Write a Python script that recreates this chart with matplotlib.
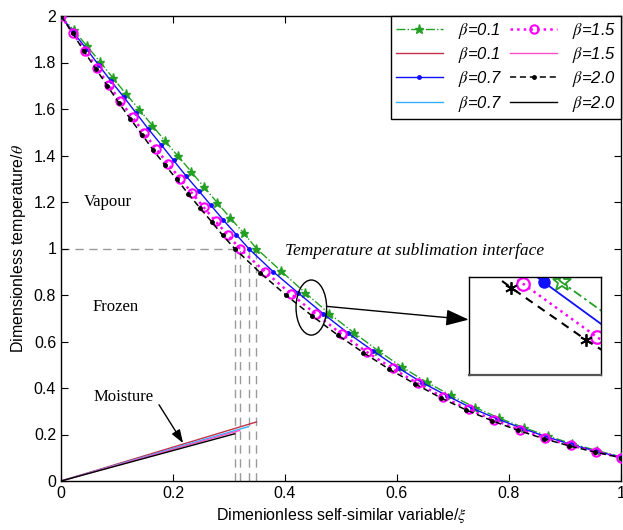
import numpy as np
import matplotlib
matplotlib.use('Agg')
import matplotlib.pyplot as plt
from matplotlib.patches import Ellipse

plt.rcParams['font.family'] = ['Liberation Sans', 'DejaVu Sans']
plt.rcParams['mathtext.fontset'] = 'stix'

# ---------------- data ----------------
betas = ['0.1', '0.7', '1.5', '2.0']

xi_b01 = [0, 0.023, 0.047, 0.070, 0.093, 0.116, 0.140, 0.163, 0.186, 0.209, 0.233, 0.256,
          0.279, 0.302, 0.326, 0.349, 0.392, 0.436, 0.479, 0.523, 0.566, 0.609, 0.653, 0.696,
          0.740, 0.783, 0.826, 0.870, 0.913, 0.957, 1.0]
th_b01 = [2.0, 1.938, 1.869, 1.802, 1.733, 1.665, 1.597, 1.529, 1.462, 1.397, 1.329, 1.263,
          1.197, 1.132, 1.067, 1.0, 0.905, 0.810, 0.720, 0.638, 0.561, 0.490, 0.425, 0.368,
          0.316, 0.270, 0.230, 0.193, 0.160, 0.131, 0.104]

xi_b07 = [0, 0.022, 0.045, 0.067, 0.089, 0.112, 0.134, 0.156, 0.179, 0.201, 0.223, 0.246,
          0.268, 0.290, 0.313, 0.335, 0.379, 0.424, 0.468, 0.512, 0.557, 0.601, 0.645, 0.690,
          0.734, 0.778, 0.823, 0.867, 0.911, 0.956, 1.0]
th_b07 = [2.0, 1.930, 1.860, 1.790, 1.721, 1.652, 1.583, 1.514, 1.446, 1.379, 1.313, 1.248,
          1.185, 1.122, 1.060, 1.0, 0.900, 0.808, 0.720, 0.637, 0.560, 0.488, 0.423, 0.366,
          0.313, 0.268, 0.227, 0.190, 0.157, 0.128, 0.102]

xi_b15 = [0, 0.021, 0.043, 0.064, 0.085, 0.106, 0.128, 0.149, 0.170, 0.191, 0.213, 0.234,
          0.255, 0.276, 0.298, 0.319, 0.364, 0.410, 0.455, 0.501, 0.546, 0.592, 0.637, 0.682,
          0.728, 0.773, 0.819, 0.864, 0.910, 0.955, 1.0]
th_b15 = [2.0, 1.927, 1.851, 1.777, 1.704, 1.633, 1.564, 1.495, 1.428, 1.364, 1.300, 1.238,
          1.177, 1.117, 1.058, 1.0, 0.901, 0.806, 0.718, 0.632, 0.555, 0.484, 0.420, 0.361,
          0.308, 0.262, 0.221, 0.185, 0.153, 0.126, 0.101]

xi_b20 = [0, 0.021, 0.041, 0.062, 0.083, 0.103, 0.124, 0.145, 0.165, 0.186, 0.207, 0.227,
          0.248, 0.269, 0.289, 0.310, 0.356, 0.402, 0.448, 0.494, 0.540, 0.586, 0.632, 0.678,
          0.724, 0.770, 0.816, 0.862, 0.908, 0.954, 1.0]
th_b20 = [2.0, 1.925, 1.849, 1.773, 1.699, 1.627, 1.557, 1.489, 1.422, 1.358, 1.297, 1.236,
          1.175, 1.115, 1.056, 1.0, 0.895, 0.799, 0.711, 0.628, 0.552, 0.481, 0.418, 0.358,
          0.305, 0.259, 0.218, 0.182, 0.151, 0.124, 0.100]

# sublimation interface positions and moisture values at the interface
interface = [0.349, 0.335, 0.319, 0.310]
moisture_end = [0.254, 0.234, 0.217, 0.203]

xticks = [0, 0.2, 0.4, 0.6, 0.8, 1.0]
xticklabels = ['0', '0.2', '0.4', '0.6', '0.8', '1']
yticks = [0, 0.2, 0.4, 0.6, 0.8, 1.0, 1.2, 1.4, 1.6, 1.8, 2.0]
yticklabels = ['0', '0.2', '0.4', '0.6', '0.8', '1', '1.2', '1.4', '1.6', '1.8', '2']

# ---------------- figure ----------------
fig = plt.figure(figsize=(6.23, 5.30), dpi=100)
ax = fig.add_axes([61 / 623, 49 / 530, 560 / 623, 465 / 530])

gray = '#9a9a9a'
ax.plot([0, interface[3]], [1, 1], color=gray, lw=1, ls=(0, (6, 4)), zorder=1)
for s in interface:
    ax.plot([s, s], [0, 1], color=gray, lw=1, ls=(0, (6, 4)), zorder=1)

green = '#23a023'
blue = '#1010ff'
mag = '#ff00ff'
main_styles = [
    dict(color=green, ls='-.', lw=1.0, marker='*', ms=6.5),
    dict(color=blue, ls='-', lw=1.0, marker='.', ms=5),
    dict(color=mag, ls=':', lw=1.8, marker='o', ms=6, mfc='none', mew=1.5),
    dict(color='k', ls=(0, (4, 2.5)), lw=1.1, marker='.', ms=5),
]
moist_colors = ['#c0304a', '#33b0ff', '#ff4fc8', '#000000']

xs = [xi_b01, xi_b07, xi_b15, xi_b20]
ys = [th_b01, th_b07, th_b15, th_b20]

main_h = []
moist_h = []
for i in range(4):
    h, = ax.plot(xs[i], ys[i], label=r'$\beta$=' + betas[i], zorder=3, **main_styles[i])
    main_h.append(h)
for i in range(4):
    h, = ax.plot([0, interface[i]], [0, moisture_end[i]], color=moist_colors[i], lw=1.0,
                 label=r'$\beta$=' + betas[i], zorder=2)
    moist_h.append(h)

handles = [main_h[0], moist_h[0], main_h[1], moist_h[1],
           main_h[2], moist_h[2], main_h[3], moist_h[3]]
leg = ax.legend(handles=handles, labels=[h.get_label() for h in handles], ncol=2,
                loc='upper right', bbox_to_anchor=(1, 1), borderaxespad=0,
                prop={'style': 'italic', 'size': 12}, handlelength=2.8, handletextpad=0.9,
                columnspacing=0.5, labelspacing=0.25, borderpad=0.3, fancybox=False,
                framealpha=1, edgecolor='k', numpoints=1)
leg.get_frame().set_linewidth(1.0)

ax.set_xlim(0, 1)
ax.set_ylim(0, 2)
ax.set_xticks(xticks)
ax.set_xticklabels(xticklabels)
ax.set_yticks(yticks)
ax.set_yticklabels(yticklabels)
ax.tick_params(direction='in', top=True, right=True, length=5, labelsize=11.5, width=0.8)
for sp in ax.spines.values():
    sp.set_linewidth(1.0)
ax.set_xlabel(r'Dimenionless self-similar variable/$\xi$', fontsize=11.5, labelpad=4)
ax.set_ylabel(r'Dimensionless temperature/$\theta$', fontsize=11.5, labelpad=4)

serif = ['Liberation Serif', 'DejaVu Serif']
ax.text(0.084, 1.2, 'Vapour', family=serif, fontsize=12, ha='center', va='center')
ax.text(0.097, 0.747, 'Frozen', family=serif, fontsize=12, ha='center', va='center')
ax.text(0.112, 0.363, 'Moisture', family=serif, fontsize=12, ha='center', va='center')
ax.text(0.631, 0.99, 'Temperature at sublimation interface', family=serif, style='italic',
        fontsize=12.5, ha='center', va='center')

ax.add_patch(Ellipse((0.447, 0.746), 0.0546, 0.237, fill=False, ec='k', lw=1.0, zorder=4))

ax.annotate('', xy=(0.728, 0.694), xytext=(0.4746, 0.751),
            arrowprops=dict(arrowstyle='-|>,head_length=1.4,head_width=0.5', color='k',
                            lw=1.0, mutation_scale=10, shrinkA=0, shrinkB=0), zorder=5)
ax.annotate('', xy=(0.218, 0.163), xytext=(0.175, 0.328),
            arrowprops=dict(arrowstyle='-|>,head_length=0.8,head_width=0.28', color='k',
                            lw=1.0, mutation_scale=10, shrinkA=0, shrinkB=0), zorder=5)

# ---------------- inset ----------------
iax = fig.add_axes([469.3 / 623, 155 / 530, 131.4 / 623, 97.7 / 530])
inset_styles = [
    dict(color=green, ls=(0, (5, 2, 1.5, 2)), lw=1.3, marker='*', ms=14, mfc='none', mew=1.3),
    dict(color=blue, ls='-', lw=1.3, marker='o', ms=8),
    dict(color=mag, ls=':', lw=1.8, marker='o', ms=9, mfc='none', mew=1.6),
    dict(color='k', ls=(0, (4, 3)), lw=1.5, marker=(6, 2, 0), ms=9, mew=1.3),
]
for i in range(4):
    iax.plot(xs[i], ys[i], **inset_styles[i])
iax.set_xlim(0.422, 0.503)
iax.set_ylim(0.572, 0.728)
iax.set_xticks([])
iax.set_yticks([])
for sp in iax.spines.values():
    sp.set_linewidth(1.0)
iax.spines['bottom'].set_linewidth(1.6)
iax.spines['bottom'].set_color('#555555')

fig.savefig('out.png', dpi=100)
